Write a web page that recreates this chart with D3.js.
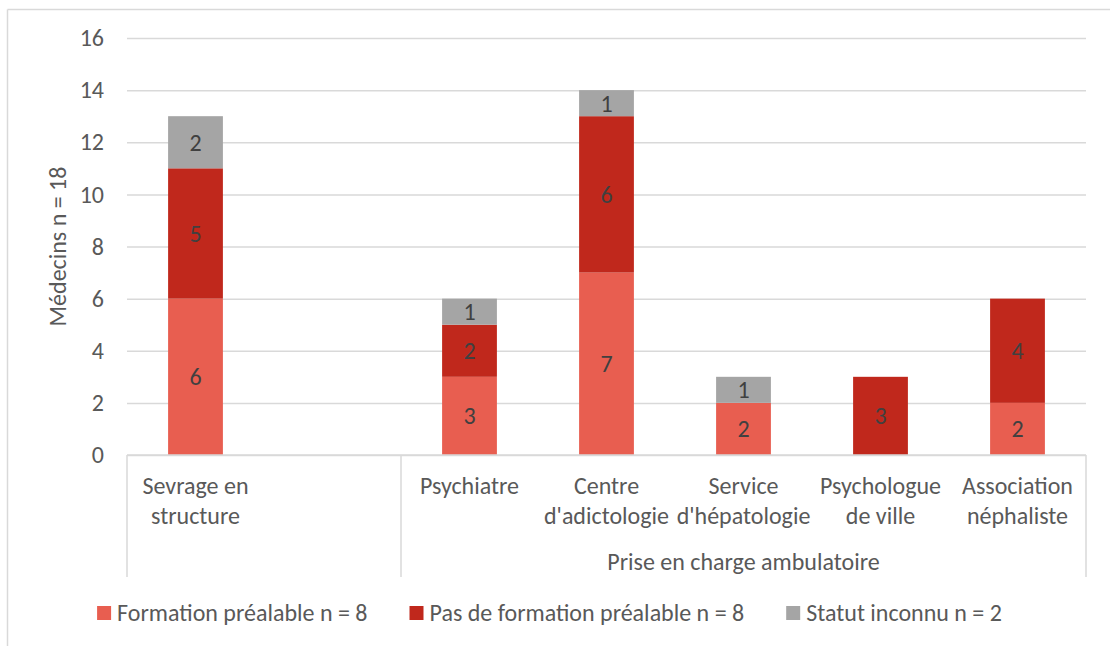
<!DOCTYPE html>
<html>
<head>
<meta charset="utf-8">
<script src="https://cdn.jsdelivr.net/npm/d3@7"></script>
<style>
  html, body { margin: 0; padding: 0; background: #fff; }
  svg { display: block; }
  text { font-family: Carlito, Calibri, Lato, "Liberation Sans", sans-serif; }
</style>
</head>
<body>
<svg id="chart" width="1110" height="646"></svg>
<script>
// ---- data ----
const categories = ["Sevrage en\nstructure", "", "Psychiatre", "Centre\nd'adictologie", "Service\nd'hépatologie", "Psychologue\nde ville", "Association\nnéphaliste"];
const groupNames = ["", "Prise en charge ambulatoire"];
const groupStarts = [0, 2];
const groupEnds = [2, 7];
const seriesNames = ["Formation préalable n = 8", "Pas de formation préalable n = 8", "Statut inconnu n = 2"];
const formation = [6, 0, 3, 7, 2, 0, 2];
const pasFormation = [5, 0, 2, 6, 0, 3, 4];
const statutInconnu = [2, 0, 1, 1, 1, 0, 0];
const yTicks = [0, 2, 4, 6, 8, 10, 12, 14, 16];
const yTitle = "Médecins n = 18";
const colors = ["#E85E50", "#C0281C", "#A5A5A5"];

// ---- layout ----
const svg = d3.select("#chart");
const W = 1110, H = 646;
const plot = { left: 127, right: 1086, top: 38, bottom: 455 };
const FS = 24;

// outer frame
svg.append("line").attr("x1", 7.5).attr("x2", W).attr("y1", 9.5).attr("y2", 9.5)
  .attr("stroke", "#d9d9d9").attr("stroke-width", 1.5);
svg.append("line").attr("x1", 7.5).attr("x2", 7.5).attr("y1", 9.5).attr("y2", H)
  .attr("stroke", "#d9d9d9").attr("stroke-width", 1.5);

const x = d3.scaleBand().domain(d3.range(categories.length))
  .range([plot.left, plot.right]).paddingInner(0.6).paddingOuter(0.3);
const y = d3.scaleLinear().domain([0, 16]).range([plot.bottom, plot.top]);
const step = x.step();
const catLeft = i => plot.left + i * step;

// gridlines + y labels via axis
const yAxis = d3.axisLeft(y).tickValues(yTicks).tickSize(-(plot.right - plot.left)).tickPadding(23);
const gy = svg.append("g").attr("transform", `translate(${plot.left},0)`).call(yAxis);
gy.select(".domain").remove();
gy.selectAll(".tick line").attr("stroke", "#d9d9d9").attr("stroke-width", 1.5);
gy.selectAll(".tick text").attr("fill", "#595959").style("font-size", FS + "px")
  .style("font-family", "Carlito, Calibri, Lato, sans-serif");

// stacked bars
const table = categories.map((c, i) => ({ i, f: formation[i], p: pasFormation[i], s: statutInconnu[i] }));
const stack = d3.stack().keys(["f", "p", "s"])(table);
stack.forEach((layer, k) => {
  const g = svg.append("g");
  g.selectAll("rect").data(layer.filter(d => d[1] - d[0] > 0)).join("rect")
    .attr("x", d => x(d.data.i))
    .attr("width", x.bandwidth())
    .attr("y", d => y(d[1]))
    .attr("height", d => y(d[0]) - y(d[1]))
    .attr("fill", colors[k]);
  g.selectAll("text").data(layer.filter(d => d[1] - d[0] > 0)).join("text")
    .attr("x", d => x(d.data.i) + x.bandwidth() / 2)
    .attr("y", d => (y(d[0]) + y(d[1])) / 2)
    .attr("dy", "0.35em")
    .attr("text-anchor", "middle")
    .attr("fill", "#404040")
    .style("font-size", FS + "px")
    .text(d => d[1] - d[0]);
});

// x axis line
svg.append("line").attr("x1", plot.left).attr("x2", plot.right)
  .attr("y1", plot.bottom).attr("y2", plot.bottom)
  .attr("stroke", "#d9d9d9").attr("stroke-width", 1.5);

// group separators
const sepBottom = 577;
const seps = Array.from(new Set(groupStarts.concat(groupEnds)));
svg.selectAll("line.sep").data(seps).join("line").attr("class", "sep")
  .attr("x1", d => catLeft(d)).attr("x2", d => catLeft(d))
  .attr("y1", plot.bottom).attr("y2", sepBottom)
  .attr("stroke", "#d9d9d9").attr("stroke-width", 1.5);

// category labels
const lineH = 29.5;
categories.forEach((c, i) => {
  if (!c) return;
  const t = svg.append("text").attr("text-anchor", "middle").attr("fill", "#595959")
    .style("font-size", FS + "px");
  c.split("\n").forEach((ln, j) => {
    t.append("tspan").attr("x", catLeft(i) + step / 2).attr("y", 486 + j * lineH)
      .attr("dy", "0.35em").text(ln);
  });
});

// group labels
groupNames.forEach((g, k) => {
  if (!g) return;
  svg.append("text").attr("text-anchor", "middle").attr("fill", "#595959")
    .style("font-size", FS + "px")
    .attr("x", (catLeft(groupStarts[k]) + catLeft(groupEnds[k])) / 2)
    .attr("y", 562).attr("dy", "0.35em").text(g);
});

// y title
svg.append("text").attr("transform", `translate(58,${(plot.top + plot.bottom) / 2}) rotate(-90)`)
  .attr("text-anchor", "middle").attr("dy", "0.35em").attr("fill", "#595959")
  .style("font-size", FS + "px").text(yTitle);

// legend
const lg = svg.append("g");
const items = seriesNames.map((n, k) => {
  const g = lg.append("g");
  g.append("rect").attr("width", 14).attr("height", 14).attr("y", -7).attr("fill", colors[k]);
  const t = g.append("text").attr("x", 20).attr("dy", "0.35em").attr("fill", "#595959")
    .style("font-size", FS + "px").text(n);
  return { g, w: 20 + t.node().getComputedTextLength() };
});
const gap = 42;
const totalW = d3.sum(items, d => d.w) + gap * (items.length - 1);
let cx = 549.5 - totalW / 2;
items.forEach(it => {
  it.g.attr("transform", `translate(${cx},613)`);
  cx += it.w + gap;
});
</script>
</body>
</html>
